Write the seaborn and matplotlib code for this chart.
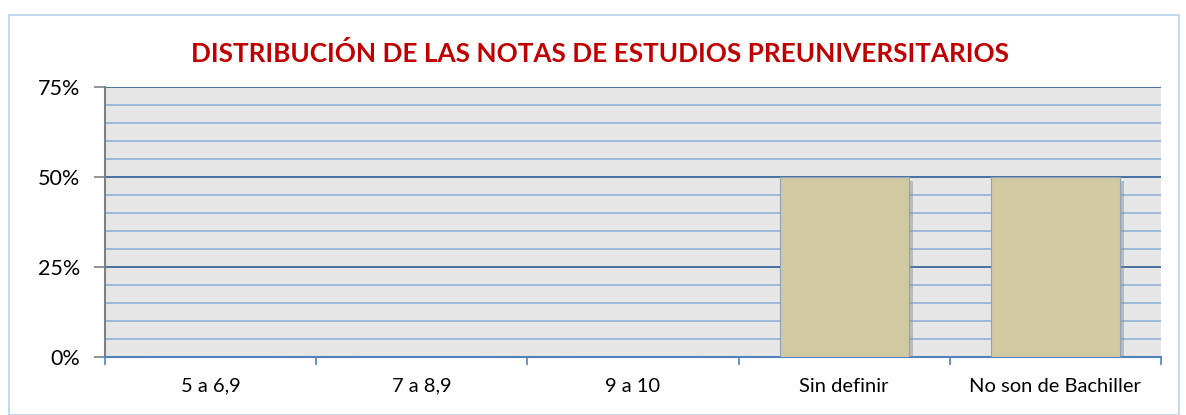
import matplotlib
matplotlib.use("Agg")
import matplotlib.pyplot as plt
import matplotlib.ticker as mticker
import matplotlib.patheffects as pe
import pandas as pd
import seaborn as sns

categorias = ["5 a 6,9", "7 a 8,9", "9 a 10", "Sin definir", "No son de Bachiller"]
porcentajes = [0, 0, 0, 50, 50]
y_ticks = [0, 25, 50, 75]
titulo = "DISTRIBUCIÓN DE LAS NOTAS DE ESTUDIOS PREUNIVERSITARIOS"

sns.set_theme(style="white")
plt.rcParams["font.family"] = ["Lato", "DejaVu Sans"]

df = pd.DataFrame({"cat": categorias, "pct": porcentajes})

fig = plt.figure(figsize=(11.86, 4.15), dpi=100)
ax = fig.add_axes([105 / 1186, 1 - 357 / 415, (1161 - 105) / 1186, (357 - 87) / 415])

# outer chart border
fig.patches.append(plt.Rectangle((9 / 1186, 0), 1170 / 1186, 1 - 15 / 415,
                                 transform=fig.transFigure, fill=False,
                                 edgecolor="#c5d9ef", linewidth=1.5))

sns.barplot(data=df, x="cat", y="pct", ax=ax, color="#d1c9a1", width=0.61,
            edgecolor="#8fa3b8", linewidth=0.8, saturation=1, zorder=3)
for bar in ax.patches:
    bar.set_path_effects([pe.SimplePatchShadow(offset=(3, -3), shadow_rgbFace="#888888", alpha=0.45),
                          pe.Normal()])

ax.set_facecolor("#e6e6e6")
ax.set_ylim(0, 75)
ax.set_xlim(-0.5, len(categorias) - 0.5)
ax.yaxis.set_major_locator(mticker.FixedLocator(y_ticks))
ax.yaxis.set_minor_locator(mticker.MultipleLocator(5))
ax.yaxis.set_major_formatter(mticker.FuncFormatter(lambda v, p: f"{int(v)}%"))
ax.grid(axis="y", which="major", color="#2d5d93", linewidth=1.2, zorder=1)
ax.grid(axis="y", which="minor", color="#8fb0d8", linewidth=1.2, zorder=1)
ax.set_axisbelow(True)

ax.set_xlabel("")
ax.set_ylabel("")
ax.tick_params(axis="y", which="major", length=8, width=1.2, color="#808080",
               labelsize=15.5, labelcolor="black", left=True, pad=10)
ax.tick_params(axis="y", which="minor", length=0)
ax.tick_params(axis="x", length=0, labelsize=14.5, labelcolor="black", pad=15)
ax.xaxis.set_minor_locator(mticker.FixedLocator([i + 0.5 for i in range(-1, len(categorias))]))
ax.tick_params(axis="x", which="minor", length=6, width=1.2, color="#4f81bd", bottom=True)

for s in ["top", "right"]:
    ax.spines[s].set_visible(False)
ax.spines["left"].set_color("#808080")
ax.spines["left"].set_linewidth(1.5)
ax.spines["bottom"].set_color("#4f81bd")
ax.spines["bottom"].set_linewidth(1.5)

fig.text(0.506, 1 - 53 / 415, titulo, ha="center", va="center", color="#c00000",
         fontsize=18.8, fontweight="bold")

fig.savefig("out.png", dpi=100)
